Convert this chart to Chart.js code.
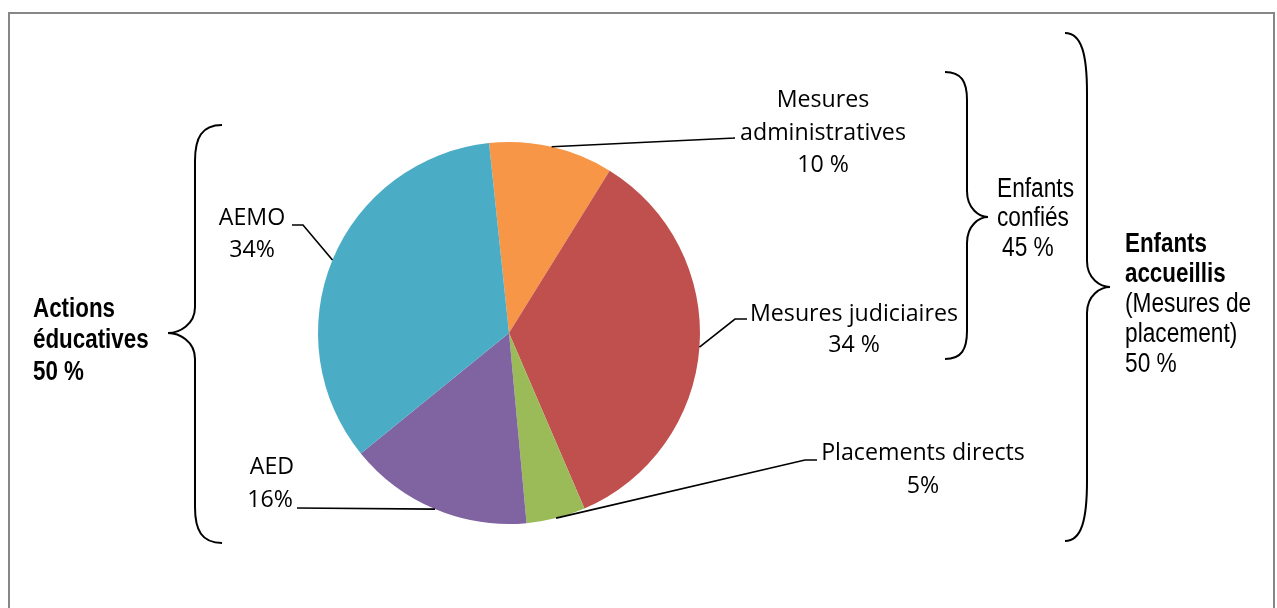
<!DOCTYPE html>
<html>
<head>
<meta charset="utf-8">
<script src="https://cdn.jsdelivr.net/npm/chart.js@4/dist/chart.umd.min.js"></script>
<style>
  html, body { margin: 0; padding: 0; background: #fff; }
  #graficoMesures { display: block; }
</style>
</head>
<body>
<canvas id="graficoMesures" width="1277" height="608"></canvas>
<script>
// Données du graphique
const categories = ['Mesures administratives', 'Mesures judiciaires', 'Placements directs', 'AED', 'AEMO'];
const valeurs = [10.5, 34.7, 5.0, 15.6, 34.2];
const etiquettesPct = ['10 %', '34 %', '5%', '16%', '34%'];
const couleurs = ['#F79646', '#C0504D', '#9BBB59', '#8064A2', '#4BACC6'];

// Regroupements (accolades)
const groupes = ['Actions éducatives', 'Enfants confiés', 'Enfants accueillis'];
const groupesPct = ['50 %', '45 %', '50 %'];

// Fonction pour écrire un texte comprimé horizontalement
function texte(ctx, str, x, y, align, font, sx) {
    ctx.save();
    ctx.font = font;
    ctx.textBaseline = 'alphabetic';
    ctx.textAlign = 'left';
    const w = ctx.measureText(str).width * sx;
    let x0 = x;
    if (align === 'center') x0 = x - w / 2;
    if (align === 'right') x0 = x - w;
    ctx.translate(x0, y);
    ctx.scale(sx, 1);
    ctx.fillText(str, 0, 0);
    ctx.restore();
}

// Accolade : xb = bout, xv = trait vertical, yt/yb = extrémités, ym = pointe, xp = pointe
function accolade(ctx, xb, xv, xp, yt, ym, yb, courbe) {
    const d = xv - xb;
    ctx.beginPath();
    ctx.moveTo(xb, yt);
    ctx.bezierCurveTo(xb + d * 0.75, yt, xv, yt + courbe * 0.35, xv, yt + courbe);
    ctx.lineTo(xv, ym - 26);
    ctx.bezierCurveTo(xv, ym - 8, xp - (xp - xv) * 0.4, ym, xp, ym);
    ctx.bezierCurveTo(xp - (xp - xv) * 0.4, ym, xv, ym + 8, xv, ym + 26);
    ctx.lineTo(xv, yb - courbe);
    ctx.bezierCurveTo(xv, yb - courbe * 0.35, xb + d * 0.75, yb, xb, yb);
    ctx.stroke();
}

const annotations = {
    id: 'annotations',
    afterDraw(chart) {
        const ctx = chart.ctx;
        const arcs = chart.getDatasetMeta(0).data;

        // police type Calibri
        const fLabel = '24px "Open Sans", sans-serif';
        ctx.font = fLabel;
        const sxLabel = 208 / ctx.measureText('Mesures judiciaires').width;
        // police type Arial Narrow
        const fBrace = '27px "Liberation Sans", Arial, sans-serif';
        const fBraceB = 'bold 28px "Liberation Sans", Arial, sans-serif';
        ctx.font = fBrace;
        const sxBrace = 77 / ctx.measureText('Enfants').width;
        ctx.font = fBraceB;
        const sxBraceB = 82 / ctx.measureText('Actions').width;

        // cadre
        ctx.save();
        ctx.strokeStyle = '#878787';
        ctx.lineWidth = 2;
        ctx.strokeRect(9, 13, 1265, 620);
        ctx.restore();

        // lignes de rappel : départ au milieu de chaque part
        const coudes = [[735, 138, 733, 138], [735, 319, 747, 319], [805, 460, 817, 460], [297, 508, 297, 508], [303, 225, 292, 225]];
        ctx.save();
        ctx.strokeStyle = '#000';
        ctx.lineWidth = 1.6;
        arcs.forEach(function (arc, i) {
            const p = arc.getProps(['x', 'y', 'startAngle', 'endAngle', 'outerRadius']);
            const mid = (p.startAngle + p.endAngle) / 2;
            const x0 = p.x + Math.cos(mid) * p.outerRadius;
            const y0 = p.y + Math.sin(mid) * p.outerRadius;
            ctx.beginPath();
            ctx.moveTo(x0, y0);
            ctx.lineTo(coudes[i][0], coudes[i][1]);
            ctx.lineTo(coudes[i][2], coudes[i][3]);
            ctx.stroke();
        });
        ctx.restore();

        // étiquettes des parts
        ctx.fillStyle = '#000';
        texte(ctx, 'Mesures', 823, 107, 'center', fLabel, sxLabel);
        texte(ctx, 'administratives', 823, 140, 'center', fLabel, sxLabel);
        texte(ctx, etiquettesPct[0], 823, 172, 'center', fLabel, sxLabel);
        texte(ctx, categories[1], 854, 321, 'center', fLabel, sxLabel);
        texte(ctx, etiquettesPct[1], 854, 352, 'center', fLabel, sxLabel);
        texte(ctx, categories[2], 923, 460, 'center', fLabel, sxLabel);
        texte(ctx, etiquettesPct[2], 923, 493, 'center', fLabel, sxLabel);
        texte(ctx, categories[3], 272, 474, 'center', fLabel, sxLabel);
        texte(ctx, etiquettesPct[3], 270, 507, 'center', fLabel, sxLabel);
        texte(ctx, categories[4], 252, 225, 'center', fLabel, sxLabel);
        texte(ctx, etiquettesPct[4], 252, 257, 'center', fLabel, sxLabel);

        // accolades
        ctx.save();
        ctx.strokeStyle = '#000';
        ctx.lineWidth = 2;
        accolade(ctx, 222, 195, 168, 125, 333, 543, 36);
        accolade(ctx, 945, 967, 988, 72, 217, 359, 28);
        accolade(ctx, 1065, 1087, 1110, 33, 287, 541, 60);
        ctx.restore();

        // textes des regroupements
        const mots = groupes[0].split(' ');
        texte(ctx, mots[0], 33, 317, 'left', fBraceB, sxBraceB);
        texte(ctx, mots[1], 33, 348, 'left', fBraceB, sxBraceB);
        texte(ctx, groupesPct[0], 33, 380, 'left', fBraceB, sxBraceB);

        const mots2 = groupes[1].split(' ');
        texte(ctx, mots2[0], 997, 197, 'left', fBrace, sxBrace);
        texte(ctx, mots2[1], 997, 226, 'left', fBrace, sxBrace);
        texte(ctx, groupesPct[1], 1002, 256, 'left', fBrace, sxBrace);

        const mots3 = groupes[2].split(' ');
        texte(ctx, mots3[0], 1125, 252, 'left', fBraceB, sxBraceB);
        texte(ctx, mots3[1], 1125, 282, 'left', fBraceB, sxBraceB);
        texte(ctx, '(Mesures de', 1125, 312, 'left', fBrace, sxBrace);
        texte(ctx, 'placement)', 1125, 342, 'left', fBrace, sxBrace);
        texte(ctx, groupesPct[2], 1125, 372, 'left', fBrace, sxBrace);
    }
};

const ctx = document.getElementById('graficoMesures').getContext('2d');
const graficoMesures = new Chart(ctx, {
    type: 'pie',
    data: {
        labels: categories,
        datasets: [{
            data: valeurs,
            backgroundColor: couleurs,
            borderWidth: 0
        }]
    },
    options: {
        responsive: false,
        animation: false,
        rotation: -6,
        layout: {
            padding: { left: 318, right: 577, top: 142, bottom: 84 }
        },
        plugins: {
            legend: { display: false },
            tooltip: { enabled: false }
        }
    },
    plugins: [annotations]
});
</script>
</body>
</html>
